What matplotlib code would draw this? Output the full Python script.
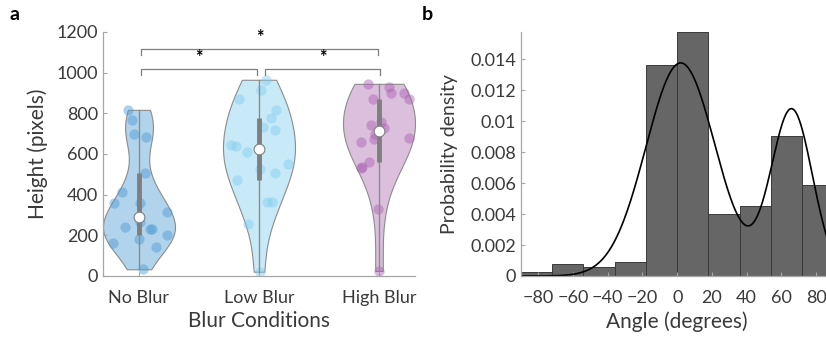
import numpy as np
import matplotlib
matplotlib.use("Agg")
import matplotlib.pyplot as plt

plt.rcParams['font.family'] = ['Lato', 'DejaVu Sans']

# panel a: heights per blur condition, with jitter offsets
conditions = ['No Blur', 'Low Blur', 'High Blur']
no_blur = [817, 768, 698, 686, 507, 412, 361, 358, 315, 268, 243, 230, 230, 202, 180, 161, 144, 33]
no_blur_jit = [-0.09, -0.06, -0.04, 0.06, 0.05, -0.14, -0.21, 0.01, 0.23, 0.01, -0.12, 0.09, 0.11, 0.23, 0.0, -0.22, 0.14, 0.03]
low_blur = [965, 916, 872, 817, 776, 735, 719, 642, 637, 609, 551, 525, 509, 473, 364, 364, 256, 21]
low_blur_jit = [0.06, 0.02, -0.17, 0.14, 0.10, 0.03, 0.13, -0.23, -0.19, -0.10, 0.24, 0.01, 0.13, -0.18, 0.07, 0.11, -0.09, 0.01]
high_blur = [945, 929, 900, 900, 870, 870, 757, 744, 727, 700, 678, 673, 658, 563, 535, 530, 328, 25]
high_blur_jit = [-0.09, 0.08, 0.10, 0.21, 0.25, -0.05, 0.02, -0.07, 0.04, -0.03, 0.25, -0.04, -0.15, -0.08, -0.14, -0.15, -0.01, 0.0]

fill_colors = ['#b1d3eb', '#c8e9f8', '#dbbfdd']
dot_colors = ['#4d9bd6', '#7fcdf0', '#a85fb2']

# significance brackets: (group a, group b, bracket height)
pairs = [(1, 2, 1018), (2, 3, 1018), (1, 3, 1117)]
bracket_ends = [(0.017, -0.02), (0.05, 0.01), (0.017, -0.01)]

# panel b: histogram of angles (density) and fitted two-gaussian mixture
bin_edges = [-90, -72, -54, -36, -18, 0, 18, 36, 54, 72, 90]
densities = [0.00024, 0.00075, 0.00058, 0.00088, 0.01361, 0.01576, 0.00398, 0.00454, 0.00903, 0.00587]
gm_means = [2.0, 66.0]
gm_sigmas = [20.0, 11.9]
gm_weights = [0.69, 0.32]

text_col = '#3a3a3a'
axis_col = '#a6a6a6'


def kde(values, grid):
    # gaussian kernel, bandwidth as in MATLAB ksdensity
    x = np.asarray(values, float)
    n = len(x)
    sig = np.median(np.abs(x - np.median(x))) / 0.6745
    bw = sig * (4 / (3 * n)) ** 0.2
    z = (grid[:, None] - x[None, :]) / bw
    return np.exp(-0.5 * z ** 2).sum(axis=1)


def violin(ax, pos, values, jit, fc, dc):
    vals = np.asarray(values, float)
    grid = np.linspace(vals.min(), vals.max(), 300)
    d = kde(vals, grid)
    d = d / d.max() * 0.3
    ax.fill_betweenx(grid, pos - d, pos + d, facecolor=fc, edgecolor='#8c8c8c', lw=0.8, zorder=1)
    ax.scatter(pos + np.asarray(jit), vals, s=55, color=dc, alpha=0.45, lw=0, zorder=2)
    q1, med, q3 = np.percentile(vals, [25, 50, 75], method='hazen')
    ax.plot([pos, pos], [vals.min(), vals.max()], color='#8c8c8c', lw=1, zorder=3)
    ax.plot([pos, pos], [q1, q3], color='#7f7f7f', lw=3.5, solid_capstyle='butt', zorder=4)
    ax.scatter([pos], [med], s=60, color='white', edgecolor='#7f7f7f', lw=0.8, zorder=5)


fig = plt.figure(figsize=(8.26, 3.4), dpi=100)

# ---- panel a
ax1 = fig.add_axes([103 / 826, 64 / 340, 312 / 826, 244 / 340])
groups = [(no_blur, no_blur_jit), (low_blur, low_blur_jit), (high_blur, high_blur_jit)]
for i, (vals, jit) in enumerate(groups):
    violin(ax1, i + 1, vals, jit, fill_colors[i], dot_colors[i])

for (a, b, h), (dl, dr) in zip(pairs, bracket_ends):
    xa, xb = a + dl, b + dr
    ax1.plot([xa, xa, xb, xb], [h - 30, h, h, h - 30], color='#7f7f7f', lw=0.9)
    ax1.text((xa + xb) / 2, h + 14, '*', ha='center', va='bottom', fontsize=13,
             fontweight='bold', color='black')

ax1.set_xlim(0.7, 3.3)
ax1.set_ylim(0, 1200)
ax1.set_yticks(range(0, 1201, 200))
ax1.set_xticks([1, 2, 3])
ax1.set_xticklabels(conditions)
ax1.set_ylabel('Height (pixels)', fontsize=15, color=text_col, labelpad=6)
ax1.set_xlabel('Blur Conditions', fontsize=15, color=text_col, labelpad=4)

# ---- panel b
ax2 = fig.add_axes([521 / 826, 64 / 340, 312.4 / 826, 244 / 340])
left = np.array(bin_edges[:-1])
ax2.bar(left, densities, width=np.diff(bin_edges), align='edge',
        color='#666666', edgecolor='#3a3a3a', lw=0.7)
xs = np.linspace(-90, 90, 600)
pdf = np.zeros_like(xs)
for m, s, w in zip(gm_means, gm_sigmas, gm_weights):
    pdf += w * np.exp(-0.5 * ((xs - m) / s) ** 2) / (s * np.sqrt(2 * np.pi))
ax2.plot(xs, pdf, color='black', lw=1.2)
ax2.set_xlim(-90, 90)
ax2.set_ylim(0, max(densities))
ax2.set_xticks(range(-80, 81, 20))
ax2.set_yticks([0, 0.002, 0.004, 0.006, 0.008, 0.01, 0.012, 0.014])
ax2.set_yticklabels(['0', '0.002', '0.004', '0.006', '0.008', '0.01', '0.012', '0.014'])
ax2.set_ylabel('Probability density', fontsize=14, color=text_col, labelpad=9)
ax2.set_xlabel('Angle (degrees)', fontsize=15, color=text_col, labelpad=4)

for ax in (ax1, ax2):
    for sp in ('top', 'right'):
        ax.spines[sp].set_visible(False)
    for sp in ('left', 'bottom'):
        ax.spines[sp].set_color(axis_col)
        ax.spines[sp].set_linewidth(0.9)
    ax.tick_params(direction='in', length=3, color=axis_col, labelsize=13, labelcolor=text_col)
    ax.tick_params(axis='x', pad=10)

fig.text(10 / 826, 1 - 14 / 340, 'a', fontsize=14, fontweight='bold', va='center')
fig.text(422 / 826, 1 - 14 / 340, 'b', fontsize=14, fontweight='bold', va='center')

fig.savefig('out.png', dpi=100)
